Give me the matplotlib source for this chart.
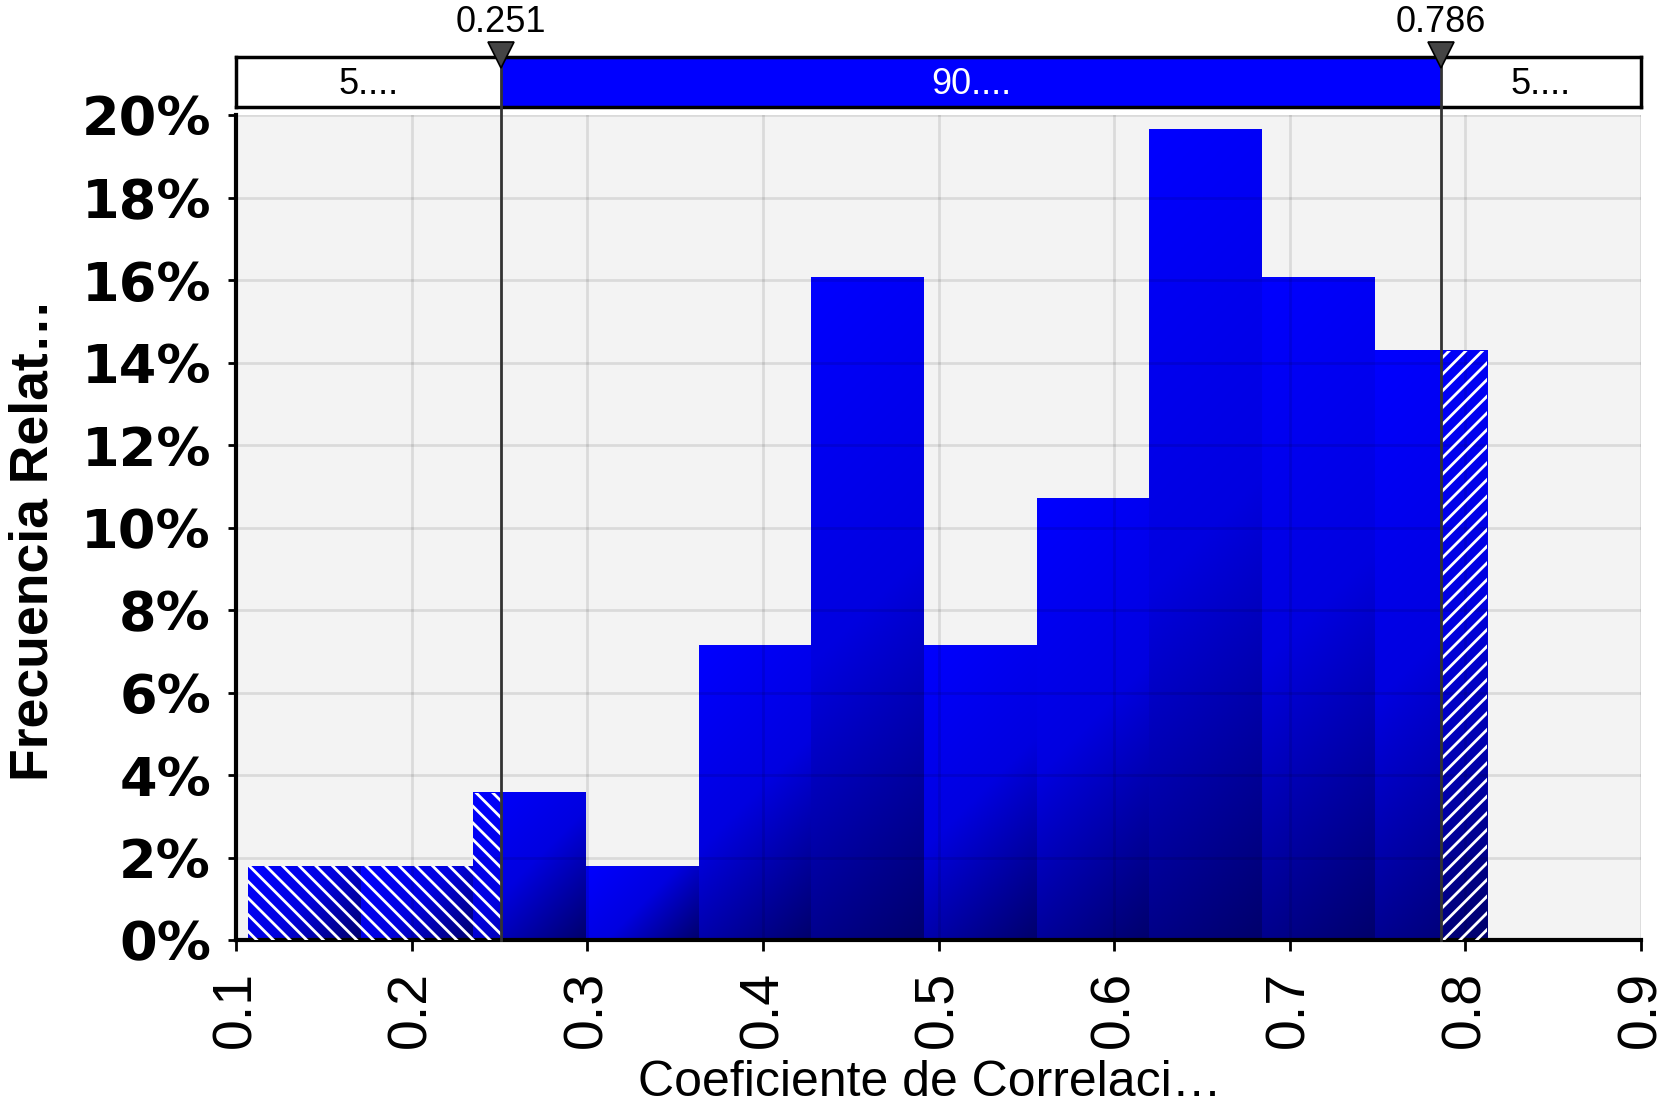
import numpy as np
import matplotlib.pyplot as plt
from matplotlib import transforms
from matplotlib.colors import LinearSegmentedColormap
from matplotlib.patches import Rectangle

''' --------- Data read off the chart --------- '''
bin_edges = [0.1067, 0.1709, 0.2350, 0.2992, 0.3634, 0.4275,
             0.4917, 0.5558, 0.6200, 0.6842, 0.7483, 0.8125]
rel_freq = [1.79, 1.79, 3.57, 1.79, 7.14, 16.07, 7.14, 10.71, 19.64, 16.07, 14.29]  # [%]
low_cut, high_cut = 0.251, 0.786
band_labels = ['5....', '90....', '5....']
x_ticks = [0.1, 0.2, 0.3, 0.4, 0.5, 0.6, 0.7, 0.8, 0.9]
y_ticks = [0, 2, 4, 6, 8, 10, 12, 14, 16, 18, 20]

plt.rcParams['hatch.linewidth'] = 2.0

''' --------- Figure / axes --------- '''
fig = plt.figure(figsize=(16.75, 11.08), dpi=100)
ax = fig.add_axes([0.1409, 0.1516, 0.8388, 0.7446])
ax.set_zorder(3)
ax.set_facecolor('#f3f3f3')
ax.set_xlim(0.1, 0.9)
ax.set_ylim(0, 20)

# bars with a corner-to-corner gradient, like the original renderer
cmap = LinearSegmentedColormap.from_list('bars', ['#0000ff', '#0000e0', '#00006c'])
for x0, x1, h in zip(bin_edges[:-1], bin_edges[1:], rel_freq):
    (px0, py0), (px1, py1) = ax.transData.transform([(x0, 0), (x1, h)])
    w, hh = px1 - px0, py1 - py0
    xs = np.linspace(0, w, 80)
    ys = np.linspace(0, hh, 300)
    t = (xs[None, :] + ys[:, None]) / (w + hh)
    ax.imshow(t, cmap=cmap, vmin=0, vmax=1, extent=(x0, x1, 0, h), origin='upper',
              aspect='auto', interpolation='bilinear', zorder=2)
    # hatched tails outside the 90% interval
    if x0 < low_cut:
        ax.add_patch(Rectangle((x0, 0), min(x1, low_cut) - x0, h, facecolor='none',
                               edgecolor='white', hatch='\\\\', lw=0, zorder=3))
    if x1 > high_cut:
        xs0 = max(x0, high_cut)
        ax.add_patch(Rectangle((xs0, 0), x1 - xs0, h, facecolor='none',
                               edgecolor='white', hatch='//', lw=0, zorder=3))

ax.set_xlim(0.1, 0.9)
ax.set_ylim(0, 20)
ax.set_axisbelow(False)
ax.grid(True, color='k', alpha=0.1, lw=2)

ax.set_xticks(x_ticks, [f'{v:.1f}' for v in x_ticks], rotation=90,
              family='Liberation Sans', fontsize=40)
ax.set_yticks(y_ticks, [f'{v}%' for v in y_ticks], family='DejaVu Sans',
              fontweight='bold', fontsize=39)
ax.tick_params(axis='x', length=8, width=2, pad=14)
ax.tick_params(axis='y', length=6, width=2, pad=12)
for s in ['top', 'right']:
    ax.spines[s].set_visible(False)
for s in ['left', 'bottom']:
    ax.spines[s].set_linewidth(3)

''' --------- Interval band on top --------- '''
axb = fig.add_axes([0.1409, 0.9034, 0.8388, 0.0452])
axb.set_xlim(0.1, 0.9)
axb.set_ylim(0, 1)
axb.axvspan(0.1, low_cut, color='white')
axb.axvspan(low_cut, high_cut, color='#0000ff')
axb.axvspan(high_cut, 0.9, color='white')
axb.set_xticks([])
axb.set_yticks([])
for s in axb.spines.values():
    s.set_linewidth(2.5)
mids = [(0.1 + low_cut) / 2, (low_cut + high_cut) / 2, (high_cut + 0.9) / 2]
for xm, lab, c in zip(mids, band_labels, ['black', 'white', 'black']):
    axb.text(xm, 0.45, lab, ha='center', va='center', color=c,
             family='Liberation Sans', fontsize=26)

# cut markers
trans = transforms.blended_transform_factory(ax.transData, fig.transFigure)
for xc in [low_cut, high_cut]:
    ax.plot([xc, xc], [1 - 940 / 1108, 1 - 56 / 1108], transform=trans, color='#333333',
            lw=2, clip_on=False, zorder=6)
    ax.plot([xc], [1 - 55 / 1108], transform=trans, marker='v', ms=19, color='#444444',
            mec='black', mew=1.2, clip_on=False, zorder=7)
    ax.text(xc, 1 - 22 / 1108, f'{xc:.3f}', transform=trans, ha='center', va='center',
            family='Liberation Sans', fontsize=26)

''' --------- Axis titles --------- '''
fig.text(34 / 1675, 1 - 540 / 1108, 'Frecuencia Relat…', rotation=90, ha='center',
         va='center', family='Liberation Sans', fontweight='bold', fontsize=38.5)
fig.text(930 / 1675, 1 - 1083 / 1108, 'Coeficiente de Correlaci…', ha='center',
         va='center', family='Liberation Sans', fontsize=36)

fig.savefig('out.png', dpi=100)
